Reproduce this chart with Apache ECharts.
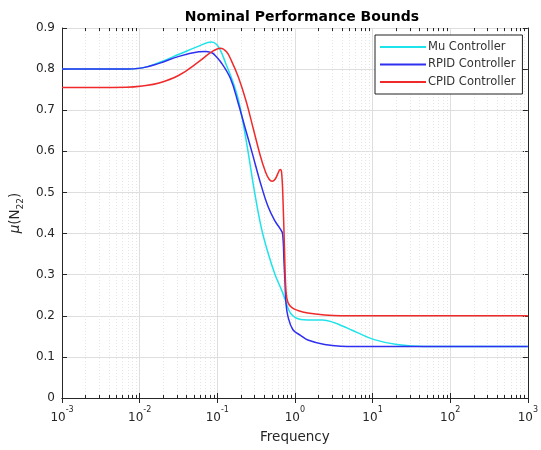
<!DOCTYPE html>
<html><head><meta charset="utf-8">
<script src="https://cdn.jsdelivr.net/npm/echarts@6/dist/echarts.min.js"></script>
<style>html,body{margin:0;padding:0;background:#fff}#c{width:541px;height:450px}</style>
</head><body><div id="c"></div>
<script>
const seriesNames = ['Mu Controller', 'RPID Controller', 'CPID Controller'];
const seriesColors = ['#1fe3ea', '#2f2ff0', '#f02a2a'];
// [frequency, mu]
const muData = [
  [0.001, 0.800], [0.006, 0.800], [0.0108, 0.803], [0.0178, 0.816], [0.0321, 0.836],
  [0.0578, 0.856], [0.0847, 0.866], [0.0981, 0.860], [0.1103, 0.845], [0.1278, 0.815],
  [0.157, 0.772], [0.1873, 0.725], [0.217, 0.665], [0.2513, 0.595], [0.2997, 0.505],
  [0.3682, 0.415], [0.4521, 0.352], [0.5557, 0.300], [0.6826, 0.260], [0.7456, 0.240],
  [0.8888, 0.205], [1.193, 0.191], [1.466, 0.190], [2.279, 0.190], [3.243, 0.183],
  [3.868, 0.177], [4.751, 0.170], [6.375, 0.159], [10.51, 0.142], [20.66, 0.130],
  [45.67, 0.125], [1000, 0.125]
];
const rpidData = [
  [0.001, 0.800], [0.006, 0.800], [0.0108, 0.803], [0.0178, 0.814], [0.0321, 0.831],
  [0.0578, 0.842], [0.071, 0.843], [0.0847, 0.840], [0.0898, 0.837], [0.1103, 0.818],
  [0.148, 0.777], [0.1873, 0.715], [0.2301, 0.655], [0.2826, 0.595], [0.3575, 0.525],
  [0.4521, 0.465], [0.5557, 0.430], [0.6436, 0.412], [0.6927, 0.400], [0.724, 0.330],
  [0.7456, 0.280], [0.7677, 0.230], [0.8143, 0.198], [0.943, 0.166], [1.193, 0.152],
  [1.466, 0.141], [2.416, 0.130], [3.868, 0.126], [10, 0.125], [1000, 0.125]
];
const cpidData = [
  [0.001, 0.755], [0.00676, 0.756], [0.0108, 0.759], [0.0178, 0.766], [0.0321, 0.785],
  [0.0578, 0.818], [0.0847, 0.842], [0.1103, 0.851], [0.1316, 0.842], [0.1524, 0.820],
  [0.1873, 0.780], [0.2369, 0.720], [0.291, 0.655], [0.3575, 0.590], [0.4142, 0.552],
  [0.4657, 0.532], [0.5087, 0.527], [0.5557, 0.532], [0.6069, 0.547], [0.6436, 0.556],
  [0.6726, 0.550], [0.7029, 0.480], [0.7347, 0.360], [0.7677, 0.260], [0.8143, 0.232],
  [0.9159, 0.220], [1.092, 0.213], [1.466, 0.207], [2.416, 0.202], [3.868, 0.200],
  [10, 0.200], [1000, 0.200]
];
const xMin = 0.001, xMax = 1000;
const yMin = 0, yMax = 0.9, yStep = 0.1;
const titleText = 'Nominal Performance Bounds';
const xLabelText = 'Frequency';

// minor log ticks 2..9 per decade (structural, not data)
const minorTicks = [];
for (let d = -3; d < 3; d++) for (let m = 2; m <= 9; m++) minorTicks.push([m * Math.pow(10, d), 0]);

const FONT = 'DejaVu Sans';
const axisColor = '#262626';

const chart = echarts.init(document.getElementById('c'), null, {renderer: 'canvas'});
const lineSeries = [muData, rpidData, cpidData].map((d, i) => ({
  name: seriesNames[i], type: 'line', data: d, xAxisIndex: 0, yAxisIndex: 0,
  symbol: 'none', smooth: 0.4, z: 5 + i,
  lineStyle: {color: seriesColors[i], width: 1.5}, itemStyle: {color: seriesColors[i]},
  emphasis: {disabled: true}, animation: false
}));
const px = v => Math.round(v) + 0.5;
const minorSeries = {
  type: 'custom', data: minorTicks, xAxisIndex: 0, yAxisIndex: 0, silent: true, z: 1,
  encode: {x: 0, y: 1}, animation: false,
  renderItem: function (params, api) {
    const f = api.value(0);
    const t = api.coord([f, yMax]);
    const b = api.coord([f, yMin]);
    const x = px(b[0]);
    return {type: 'group', children: [
      {type: 'line', shape: {x1: x, y1: b[1], x2: x, y2: t[1]}, style: {stroke: '#e6e6e6', lineWidth: 1, lineDash: [1, 2]}},
      {type: 'line', shape: {x1: x, y1: b[1], x2: x, y2: b[1] - 3}, style: {stroke: axisColor, lineWidth: 1}},
      {type: 'line', shape: {x1: x, y1: t[1], x2: x, y2: t[1] + 3}, style: {stroke: axisColor, lineWidth: 1}}
    ]};
  }
};

const xBase = {
  type: 'log', logBase: 10, min: xMin, max: xMax, splitNumber: 6,
  axisLine: {show: true, lineStyle: {color: axisColor, width: 1}},
  axisTick: {show: true, inside: true, length: 5, lineStyle: {color: axisColor}},
};
const yBase = {
  type: 'value', min: yMin, max: yMax, interval: yStep,
  axisLine: {show: true, lineStyle: {color: axisColor, width: 1}},
  axisTick: {show: true, inside: true, length: 5, lineStyle: {color: axisColor}},
};

chart.setOption({
  backgroundColor: '#fff',
  animation: false,
  title: {text: titleText, left: 297, textAlign: 'center', top: 5,
    textStyle: {fontFamily: FONT, fontWeight: 'bold', fontSize: 14, color: '#000'}},
  grid: {left: 62, right: 9, top: 28, bottom: 52, containLabel: false},
  legend: {
    data: seriesNames, orient: 'vertical', left: 375, top: 35,
    padding: [6, 7, 6, 4], itemGap: 5.5, itemWidth: 46, itemHeight: 12,
    backgroundColor: '#fff', borderColor: '#222', borderWidth: 1,
    itemStyle: {opacity: 0},
    textStyle: {fontFamily: FONT, fontSize: 11.5, color: '#333', padding: [0, 0, 0, -3]},
    selectedMode: false
  },
  xAxis: [
    Object.assign({}, xBase, {
      position: 'bottom',
      name: xLabelText, nameLocation: 'middle', nameGap: 32,
      nameTextStyle: {fontFamily: FONT, fontSize: 13.5, color: '#262626'},
      splitLine: {show: true, lineStyle: {color: '#dedede', width: 1}},
      axisLabel: {
        margin: 8,
        formatter: v => '{b|10}{s|' + Math.round(Math.log10(v)) + '}',
        rich: {
          b: {fontFamily: FONT, fontSize: 12, color: '#262626', lineHeight: 18, verticalAlign: 'bottom'},
          s: {fontFamily: FONT, fontSize: 8, color: '#262626', lineHeight: 18, verticalAlign: 'top'}
        }
      }
    }),
    Object.assign({}, xBase, {position: 'top', axisLabel: {show: false}, splitLine: {show: false}})
  ],
  yAxis: [
    Object.assign({}, yBase, {
      position: 'left',
      name: '{i|μ}{n|(N}{s|22}{n|)}', nameLocation: 'middle', nameGap: 36, nameRotate: 90,
      nameTextStyle: {
        rich: {
          i: {fontFamily: FONT, fontSize: 13.5, fontStyle: 'italic', color: '#262626', lineHeight: 20, verticalAlign: 'middle'},
          n: {fontFamily: FONT, fontSize: 13.5, color: '#262626', lineHeight: 20, verticalAlign: 'middle'},
          s: {fontFamily: FONT, fontSize: 9, color: '#262626', lineHeight: 20, verticalAlign: 'bottom'}
        }
      },
      splitLine: {show: true, lineStyle: {color: '#dedede', width: 1}},
      axisLabel: {margin: 7, fontFamily: FONT, fontSize: 12, color: '#262626'}
    }),
    Object.assign({}, yBase, {position: 'right', axisLabel: {show: false}, splitLine: {show: false}})
  ],
  series: [minorSeries].concat(lineSeries)
});
</script></body></html>
